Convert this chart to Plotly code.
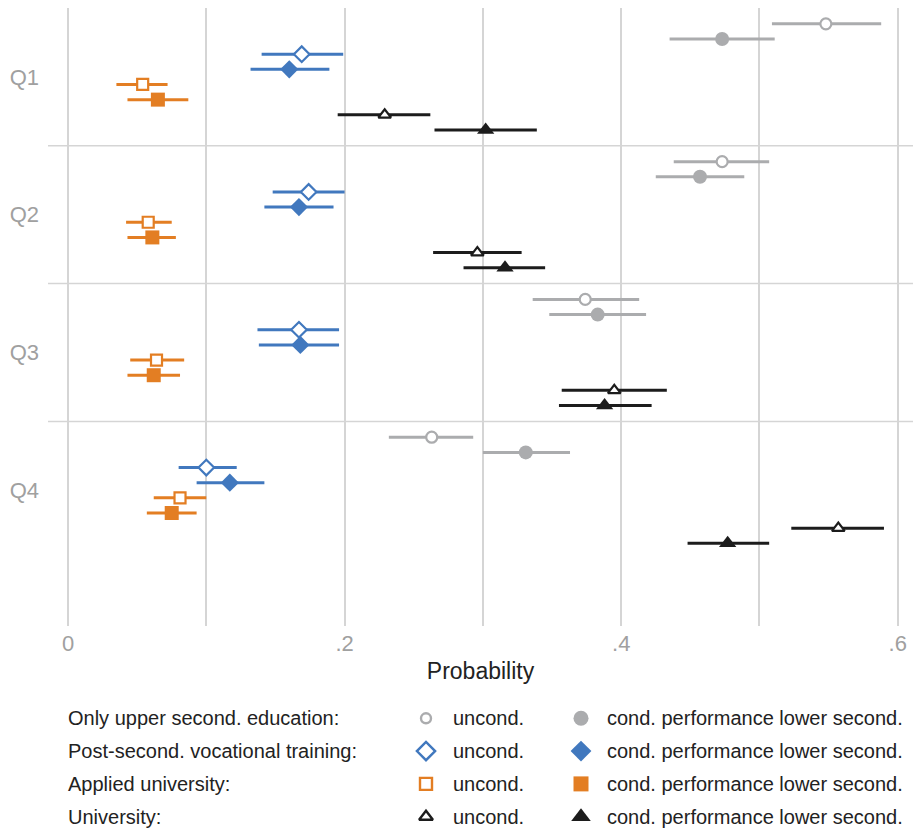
import plotly.graph_objects as go

# ---------------- data ----------------
categories = ["Q1", "Q2", "Q3", "Q4"]
x_tick_vals = [0, 0.2, 0.4, 0.6]
x_tick_text = ["0", ".2", ".4", ".6"]

upper_unc = [0.548, 0.473, 0.374, 0.263]
upper_unc_lo = [0.509, 0.438, 0.336, 0.232]
upper_unc_hi = [0.588, 0.507, 0.413, 0.293]
upper_cond = [0.473, 0.457, 0.383, 0.331]
upper_cond_lo = [0.435, 0.425, 0.348, 0.300]
upper_cond_hi = [0.511, 0.489, 0.418, 0.363]

voc_unc = [0.169, 0.174, 0.167, 0.100]
voc_unc_lo = [0.140, 0.148, 0.137, 0.080]
voc_unc_hi = [0.199, 0.200, 0.196, 0.122]
voc_cond = [0.160, 0.167, 0.168, 0.117]
voc_cond_lo = [0.132, 0.142, 0.138, 0.093]
voc_cond_hi = [0.189, 0.192, 0.196, 0.142]

app_unc = [0.054, 0.058, 0.064, 0.081]
app_unc_lo = [0.035, 0.042, 0.045, 0.062]
app_unc_hi = [0.072, 0.075, 0.084, 0.100]
app_cond = [0.065, 0.061, 0.062, 0.075]
app_cond_lo = [0.043, 0.043, 0.043, 0.057]
app_cond_hi = [0.087, 0.078, 0.081, 0.093]

uni_unc = [0.229, 0.296, 0.395, 0.557]
uni_unc_lo = [0.195, 0.264, 0.357, 0.523]
uni_unc_hi = [0.262, 0.328, 0.433, 0.590]
uni_cond = [0.302, 0.316, 0.388, 0.477]
uni_cond_lo = [0.265, 0.286, 0.355, 0.448]
uni_cond_hi = [0.339, 0.345, 0.422, 0.507]

group_labels = ["Only upper second. education:", "Post-second. vocational training:",
                "Applied university:", "University:"]
unc_label = "uncond."
cond_label = "cond. performance lower second."

# ---------------- styles ----------------
GREY = "#abacae"
BLUE = "#4178be"
ORANGE = "#e37e23"
BLACK = "#1c1c1c"
GRID = "#d5d5d5"
TICK = "#a0a0a0"
FONT = "Liberation Sans, Arial, sans-serif"

series = [
    (upper_unc, upper_unc_lo, upper_unc_hi, GREY, "circle", False, 11),
    (upper_cond, upper_cond_lo, upper_cond_hi, GREY, "circle", True, 14),
    (voc_unc, voc_unc_lo, voc_unc_hi, BLUE, "diamond", False, 12),
    (voc_cond, voc_cond_lo, voc_cond_hi, BLUE, "diamond", True, 14),
    (app_unc, app_unc_lo, app_unc_hi, ORANGE, "square", False, 11),
    (app_cond, app_cond_lo, app_cond_hi, ORANGE, "square", True, 14),
    (uni_unc, uni_unc_lo, uni_unc_hi, BLACK, "triangle-up", False, 11),
    (uni_cond, uni_cond_lo, uni_cond_hi, BLACK, "triangle-up", True, 15),
]
offsets = [-0.385, -0.275, -0.165, -0.055, 0.055, 0.165, 0.275, 0.385]

fig = go.Figure()

for (est, lo, hi, col, sym, filled, size), off in zip(series, offsets):
    ys = [i + 1 + off for i in range(len(categories))]
    fig.add_trace(go.Scatter(
        x=est, y=ys, mode="markers",
        marker=dict(symbol=sym, size=size,
                    color=col if filled else "white",
                    line=dict(color=col, width=0 if filled else 2.2)),
        error_x=dict(type="data", symmetric=False,
                     array=[h - e for h, e in zip(hi, est)],
                     arrayminus=[e - l for e, l in zip(est, lo)],
                     color=col, thickness=3, width=0),
        showlegend=False, hoverinfo="x+y",
    ))

# ---------------- custom legend (in its own hidden axes, pixel units) ----------------
W, H = 913, 830
MT, MB, ML, MR = 8, 0, 48, 0
paper_h = H - MT - MB
plot_bottom_px = 626
leg_dom_top = 0.24
leg_top_px = H - MB - leg_dom_top * paper_h

row0, row_step = 718.3, 32.8
x_open, x_filled = 426, 581
x_lab, x_unc, x_cond = 66, 451, 605

leg_sizes_open = {"circle": 10, "diamond": 14, "square": 12, "triangle-up": 12}
leg_sizes_fill = {"circle": 15, "diamond": 16, "square": 15, "triangle-up": 17}

annotations = []
for r in range(4):
    yv = row0 + r * row_step
    s_unc = series[2 * r]
    s_cond = series[2 * r + 1]
    fig.add_trace(go.Scatter(
        x=[x_open], y=[yv], xaxis="x2", yaxis="y2", mode="markers",
        marker=dict(symbol=s_unc[4], size=leg_sizes_open[s_unc[4]], color="white",
                    line=dict(color=s_unc[3], width=2.4)),
        showlegend=False, hoverinfo="skip", cliponaxis=False))
    fig.add_trace(go.Scatter(
        x=[x_filled], y=[yv], xaxis="x2", yaxis="y2", mode="markers",
        marker=dict(symbol=s_cond[4], size=leg_sizes_fill[s_cond[4]], color=s_cond[3],
                    line=dict(width=0)),
        showlegend=False, hoverinfo="skip", cliponaxis=False))
    for xx, txt in [(x_lab, group_labels[r]), (x_unc, unc_label), (x_cond, cond_label)]:
        annotations.append(dict(x=xx, y=yv, xref="x2", yref="y2", text=txt,
                                showarrow=False, xanchor="left", yanchor="middle",
                                font=dict(family=FONT, size=20, color="#222222")))

shapes = []
for yb in [1.5, 2.5, 3.5]:
    shapes.append(dict(type="line", xref="paper", yref="y", x0=0, x1=1, y0=yb, y1=yb,
                       line=dict(color=GRID, width=1.5), layer="below"))

fig.update_layout(
    width=W, height=H,
    margin=dict(l=ML, r=MR, t=MT, b=MB),
    paper_bgcolor="white", plot_bgcolor="white",
    font=dict(family=FONT, color="#222222"),
    showlegend=False,
    xaxis=dict(range=[-0.01446, 0.611], tickvals=x_tick_vals, ticktext=x_tick_text,
               showgrid=True, gridcolor=GRID, gridwidth=1.5, zeroline=False,
               showline=False, ticks="", ticklabelstandoff=2,
               minor=dict(dtick=0.1, tick0=0, showgrid=True, gridcolor=GRID, gridwidth=1.5),
               tickfont=dict(family=FONT, size=22, color=TICK),
               title=dict(text="Probability", standoff=7,
                          font=dict(family=FONT, size=23, color="#222222")),
               automargin=False, anchor="y"),
    yaxis=dict(range=[4.985, 0.5], domain=[(H - MB - plot_bottom_px) / paper_h, 1],
               tickvals=[1, 2, 3, 4], ticktext=categories, showgrid=False,
               zeroline=False, showline=False, ticks="", ticklabelstandoff=8,
               tickfont=dict(family=FONT, size=22, color=TICK), automargin=False,
               anchor="x"),
    xaxis2=dict(range=[ML, W - MR], domain=[0, 1], visible=False, anchor="y2",
                fixedrange=True),
    yaxis2=dict(range=[H - MB, leg_top_px], domain=[0, leg_dom_top], visible=False,
                anchor="x2", fixedrange=True),
    annotations=annotations,
    shapes=shapes,
)

fig.write_html("out.html",
               config={"displayModeBar": False},
               post_script="document.body.style.margin='0px';document.body.style.padding='0px';document.body.style.overflow='hidden';")
